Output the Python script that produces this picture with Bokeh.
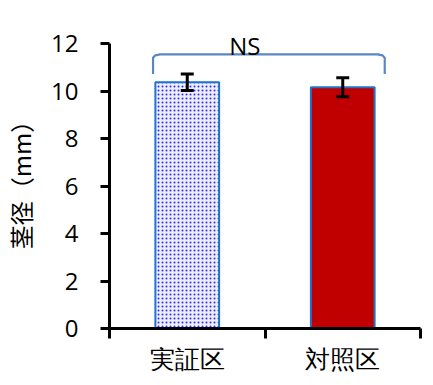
from bokeh.plotting import figure
from bokeh.models import ColumnDataSource, FixedTicker, Whisker, Label, Range1d
from bokeh.embed import file_html
from bokeh.resources import INLINE

# data
categories = ["実証区", "対照区"]
values = [10.38, 10.17]
errors = [0.35, 0.40]
y_ticks = [0, 2, 4, 6, 8, 10, 12]
y_label = "茎径（mm）"
sig_text = "NS"
bracket_left = 0.28
bracket_right = 1.77
bracket_top = 11.55
bracket_bottom = 10.73

x_pos = [i + 0.5 for i in range(len(categories))]

p = figure(width=423, height=377, output_backend="svg", toolbar_location=None,
           x_range=Range1d(0, 2), y_range=Range1d(0, 12.6),
           min_border_left=108, min_border_right=3, min_border_top=29, min_border_bottom=48)
p.outline_line_color = None
p.grid.visible = False
p.background_fill_color = "white"

src1 = ColumnDataSource(dict(x=[x_pos[0]], top=[values[0]]))
src2 = ColumnDataSource(dict(x=[x_pos[1]], top=[values[1]]))
p.vbar(x="x", top="top", width=0.41, bottom=0, source=src1,
       fill_color="#EEEEFF", line_color="#1F74C8", line_width=2,
       hatch_pattern=".", hatch_color="#2B2BFF", hatch_scale=4, hatch_weight=2.6)
p.vbar(x="x", top="top", width=0.41, bottom=0, source=src2,
       fill_color="#C00000", line_color="#1F74C8", line_width=2)

esrc = ColumnDataSource(dict(x=x_pos,
                             lower=[v - e for v, e in zip(values, errors)],
                             upper=[v + e for v, e in zip(values, errors)]))
w = Whisker(source=esrc, base="x", lower="lower", upper="upper",
            line_color="black", line_width=3, level="overlay")
for h in (w.upper_head, w.lower_head):
    h.size = 13
    h.line_width = 3
    h.line_color = "black"
p.add_layout(w)

# bracket with rounded corners
r = 0.045
ry = 0.14
bx = [bracket_left, bracket_left, bracket_left + r * 0.3, bracket_left + r,
      bracket_right - r, bracket_right - r * 0.3, bracket_right, bracket_right]
by = [bracket_bottom, bracket_top - ry, bracket_top - ry * 0.3, bracket_top,
      bracket_top, bracket_top - ry * 0.3, bracket_top - ry, bracket_bottom]
p.line(bx, by, line_color="#5A86C4", line_width=2.2)

p.add_layout(Label(x=(bracket_left + bracket_right) / 2, y=bracket_top, text=sig_text,
                   text_align="center", text_baseline="bottom", x_offset=-24, y_offset=-8,
                   text_font="Open Sans", text_font_size="24px", text_color="black"))

# axes
p.yaxis.ticker = FixedTicker(ticks=y_ticks)
p.yaxis.bounds = (0, 12)
p.yaxis.axis_line_width = 3
p.yaxis.axis_line_color = "black"
p.yaxis.major_tick_line_width = 3
p.yaxis.major_tick_line_color = "black"
p.yaxis.major_tick_out = 9
p.yaxis.major_tick_in = 0
p.yaxis.minor_tick_line_color = None
p.yaxis.major_label_text_font = "Open Sans"
p.yaxis.major_label_text_font_size = "24px"
p.yaxis.major_label_text_color = "black"
p.yaxis.major_label_standoff = 22
p.yaxis.axis_label = y_label
p.yaxis.axis_label_text_font = "Noto Sans CJK JP"
p.yaxis.axis_label_text_font_size = "24px"
p.yaxis.axis_label_text_font_style = "normal"
p.yaxis.axis_label_text_color = "black"
p.yaxis.axis_label_standoff = 10

p.xaxis.ticker = FixedTicker(ticks=x_pos, minor_ticks=[0, 1, 2])
p.xaxis.major_label_overrides = {x: c for x, c in zip(x_pos, categories)}
p.xaxis.axis_line_width = 3
p.xaxis.axis_line_color = "black"
p.xaxis.major_tick_line_color = None
p.xaxis.major_tick_out = 10
p.xaxis.minor_tick_line_width = 3
p.xaxis.minor_tick_out = 10
p.xaxis.minor_tick_in = 0
p.xaxis.minor_tick_line_color = "black"
p.xaxis.major_label_text_font = "Open Sans"
p.xaxis.major_label_text_font_size = "25px"
p.xaxis.major_label_text_color = "black"
p.xaxis.major_label_standoff = 2

open("out.html", "w").write(file_html(p, INLINE))
